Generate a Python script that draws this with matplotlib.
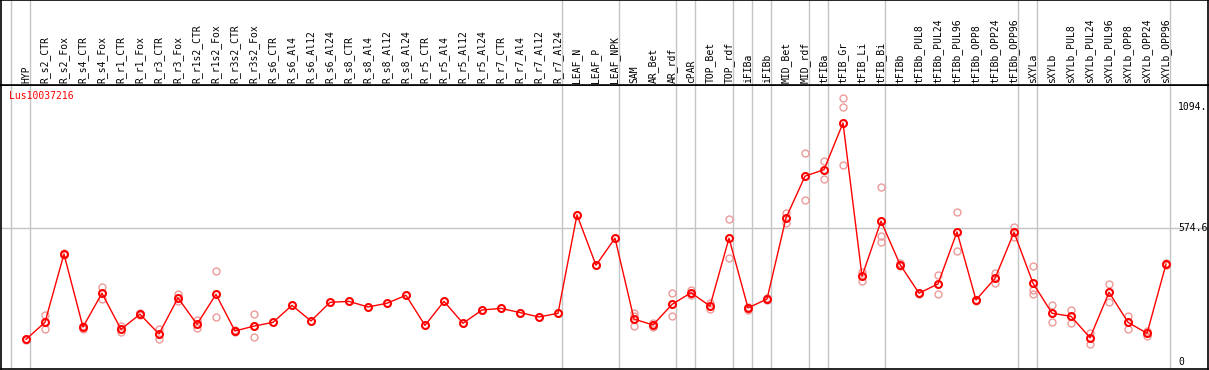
import matplotlib.pyplot as plt
import matplotlib.transforms as mtransforms
import numpy as np

samples = [
    "HYP", "R_s2_CTR", "R_s2_Fox", "R_s4_CTR", "R_s4_Fox", "R_r1_CTR", "R_r1_Fox",
    "R_r3_CTR", "R_r3_Fox", "R_r1s2_CTR", "R_r1s2_Fox", "R_r3s2_CTR", "R_r3s2_Fox",
    "R_s6_CTR", "R_s6_Al4", "R_s6_Al12", "R_s6_Al24", "R_s8_CTR", "R_s8_Al4",
    "R_s8_Al12", "R_s8_Al24", "R_r5_CTR", "R_r5_Al4", "R_r5_Al12", "R_r5_Al24",
    "R_r7_CTR", "R_r7_Al4", "R_r7_Al12", "R_r7_Al24", "LEAF_N", "LEAF_P", "LEAF_NPK",
    "SAM", "AR_Bet", "AR_rdf", "cPAR", "TOP_Bet", "TOP_rdf", "iFIBa", "iFIBb",
    "MID_Bet", "MID_rdf", "tFIBa", "tFIB_Gr", "tFIB_Li", "tFIB_Bi", "tFIBb",
    "tFIBb_PUL8", "tFIBb_PUL24", "tFIBb_PUL96", "tFIBb_OPP8", "tFIBb_OPP24",
    "tFIBb_OPP96", "sXYLa", "sXYLb", "sXYLb_PUL8", "sXYLb_PUL24", "sXYLb_PUL96",
    "sXYLb_OPP8", "sXYLb_OPP24", "sXYLb_OPP96",
]

means = [
    97, 170, 463, 150, 295, 140, 205, 120, 275, 162, 290, 133, 154,
    170, 243, 176, 256, 260, 236, 252, 286, 157, 260, 166, 223,
    230, 212, 193, 209, 631, 415, 531,
    184, 159, 247, 297, 240, 531, 232, 270, 618, 797, 825, 1025,
    368, 604, 418, 295, 335, 558, 266, 359, 556,
    338, 209, 196, 104, 299, 170, 123, 420,
]

replicates = [
    [95, 99], [202, 140], [468, 458], [155, 142], [320, 269], [154, 128],
    [210, 200], [140, 100], [290, 262], [180, 147], [390, 193], [138, 128],
    [205, 106],
    [], [], [], [], [], [], [], [], [], [], [], [], [], [], [], [], [], [], [],
    [212, 198, 154], [168, 150], [295, 197], [308, 288], [252, 228],
    [613, 446], [237, 224], [274, 266], [638, 598], [897, 694], [864, 784],
    [1133, 1093, 844], [385, 346], [751, 539, 513], [425, 412], [298, 292],
    [373, 292], [642, 475], [268, 262], [383, 340], [580, 537],
    [412, 309, 290], [243, 172], [223, 169], [126, 76], [335, 259],
    [199, 140], [133, 110], [425, 415],
]

# index of last sample in each group (-1 = before first)
group_ends = [-1, 0, 28, 31, 34, 35, 37, 38, 39, 41, 42, 45, 52, 53, 60]

gene = "Lus10037216"
ref_values = [1094, 574.6, 0]
ref_labels = ["1094.", "574.6", "0"]

font = "DejaVu Sans Mono"
grey = "#c4c4c4"

fig = plt.figure(figsize=(12.09, 3.70), dpi=100)
xlim = (-1.316, 62.21)

ax = fig.add_axes([0.0008, 0.0027, 0.9984, 0.7676])
ax_h = fig.add_axes([0.0008, 0.7703, 0.9984, 0.2284], sharex=ax)

x = np.arange(len(samples))

for a in (ax, ax_h):
    a.set_xlim(*xlim)
    a.set_xticks([])
    a.set_yticks([])
    for s in a.spines.values():
        s.set_color("black")
        s.set_linewidth(1.2)
    for g in group_ends:
        a.axvline(g + 0.21, color=grey, lw=1, zorder=0)

ax.set_ylim(-30, 1188)
ax.axhline(ref_values[1], color=grey, lw=1, zorder=0)

# replicate points
rx = [i for i, r in enumerate(replicates) for _ in r]
ry = [v for r in replicates for v in r]
ax.plot(rx, ry, "o", ms=5, mfc="none", mec="#ee9a9a", mew=1.0, zorder=2)

# mean line + markers
ax.plot(x, means, "-", color="red", lw=1, zorder=3)
ax.plot(x, means, "o", ms=5, mfc="none", mec="red", mew=1.5, zorder=4)

ax.text(0.007, 0.96, gene, color="red", family=font, fontsize=7,
        ha="left", va="center", transform=ax.transAxes)

for v, lab in zip(ref_values, ref_labels):
    ax.text(60.63, v, lab, family=font, fontsize=7, ha="left", va="center")

trans = mtransforms.blended_transform_factory(ax_h.transData, ax_h.transAxes)
for i, lab in enumerate(samples):
    ax_h.text(i, 0.025, lab, rotation=90, ha="center", va="bottom",
              family=font, fontsize=7, transform=trans)

fig.savefig("out.png", dpi=100)
